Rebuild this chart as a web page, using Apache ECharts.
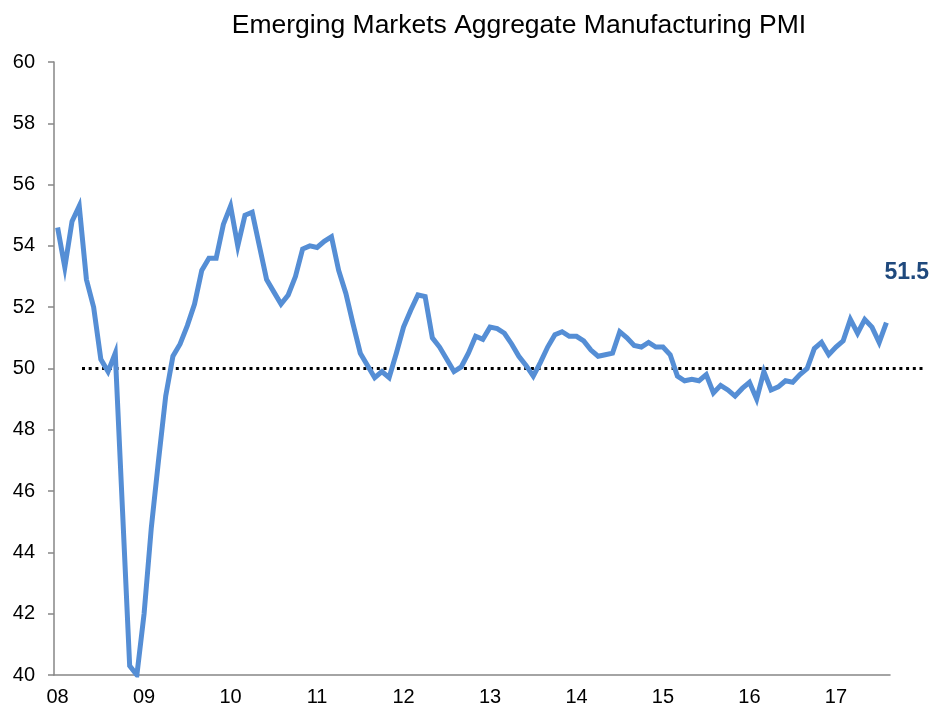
<!DOCTYPE html>
<html>
<head>
<meta charset="utf-8">
<script src="https://cdn.jsdelivr.net/npm/echarts@6/dist/echarts.min.js"></script>
<style>
  html, body { margin: 0; padding: 0; background: #fff; }
  #chart { width: 934px; height: 711px; }
</style>
</head>
<body>
<div id="chart"></div>
<script>
// year labels shown on the x axis (one per January)
const yearLabels = ['08', '09', '10', '11', '12', '13', '14', '15', '16', '17']

// monthly PMI readings, Jan 2008 .. Aug 2017
const pmi2008 = [54.6, 53.3, 54.8, 55.3, 52.9, 52.0, 50.3, 49.9, 50.5, 45.4, 40.3, 40.0]
const pmi2009 = [42.0, 44.8, 47.0, 49.1, 50.4, 50.8, 51.4, 52.1, 53.2, 53.6, 53.6, 54.7]
const pmi2010 = [55.3, 54.0, 55.0, 55.1, 54.0, 52.9, 52.5, 52.1, 52.4, 53.0, 53.9, 54.0]
const pmi2011 = [53.95, 54.15, 54.3, 53.2, 52.45, 51.45, 50.5, 50.1, 49.7, 49.9, 49.7, 50.5]
const pmi2012 = [51.35, 51.9, 52.4, 52.35, 51.0, 50.7, 50.3, 49.9, 50.05, 50.5, 51.05, 50.95]
const pmi2013 = [51.35, 51.3, 51.15, 50.8, 50.4, 50.1, 49.75, 50.2, 50.7, 51.1, 51.2, 51.05]
const pmi2014 = [51.05, 50.9, 50.6, 50.4, 50.45, 50.5, 51.2, 51.0, 50.75, 50.7, 50.85, 50.7]
const pmi2015 = [50.7, 50.45, 49.75, 49.6, 49.65, 49.6, 49.8, 49.2, 49.45, 49.3, 49.1, 49.35]
const pmi2016 = [49.55, 49.0, 49.9, 49.3, 49.4, 49.6, 49.55, 49.8, 50.0, 50.65, 50.85, 50.45]
const pmi2017 = [50.7, 50.9, 51.6, 51.15, 51.6, 51.35, 50.85, 51.5]

// the 50 no-change line
const thresholdLine = [[0, 50], [1, 50]]

const pmiValues = [].concat(pmi2008, pmi2009, pmi2010, pmi2011, pmi2012,
  pmi2013, pmi2014, pmi2015, pmi2016, pmi2017)

const months = pmiValues.map((v, i) => yearLabels[Math.floor(i / 12)] + '-' + (i % 12 + 1))

const chart = echarts.init(document.getElementById('chart'))
const axisGray = '#868686'

chart.setOption({
  animation: false,
  textStyle: { fontFamily: 'Liberation Sans' },
  title: {
    text: 'Emerging Markets Aggregate Manufacturing PMI',
    left: 514,
    top: 7,
    textAlign: 'center',
    textStyle: {
      fontFamily: 'Liberation Sans',
      fontSize: 26.5,
      fontWeight: 'normal',
      color: '#000'
    }
  },
  grid: [
    { left: 54, right: 44, top: 62, bottom: 36 },
    { left: 82, right: 8, top: 62, bottom: 36 }
  ],
  xAxis: [{
    type: 'category',
    gridIndex: 0,
    data: months,
    boundaryGap: true,
    axisLine: { lineStyle: { color: axisGray, width: 1.5 } },
    axisTick: {
      interval: 11,
      length: 6,
      lineStyle: { color: axisGray, width: 1.5 }
    },
    axisLabel: {
      interval: 11,
      margin: 12,
      fontSize: 20,
      color: '#000',
      formatter: (val) => val.split('-')[0]
    },
    splitLine: { show: false }
  }, {
    type: 'value',
    gridIndex: 1,
    min: 0,
    max: 1,
    show: false
  }],
  yAxis: [{
    type: 'value',
    gridIndex: 0,
    min: 40,
    max: 60,
    interval: 2,
    axisLine: { show: true, lineStyle: { color: axisGray, width: 1.5 } },
    axisTick: { show: true, length: 6, lineStyle: { color: axisGray, width: 1.5 } },
    axisLabel: { margin: 19, fontSize: 20, color: '#000' },
    splitLine: { show: false }
  }, {
    type: 'value',
    gridIndex: 1,
    min: 40,
    max: 60,
    show: false
  }],
  series: [{
    name: 'Threshold',
    type: 'line',
    xAxisIndex: 1,
    yAxisIndex: 1,
    data: thresholdLine,
    showSymbol: false,
    silent: true,
    z: 1,
    lineStyle: { color: '#000', width: 3, type: [3, 3.7], cap: 'butt' }
  }, {
    name: 'EM PMI',
    type: 'line',
    xAxisIndex: 0,
    yAxisIndex: 0,
    data: pmiValues,
    showSymbol: false,
    z: 3,
    lineStyle: { color: '#558ED5', width: 5, join: 'miter' },
    endLabel: {
      show: true,
      offset: [-10, -50],
      formatter: (p) => p.value.toFixed(1),
      fontFamily: 'Liberation Sans',
      fontSize: 23,
      fontWeight: 'bold',
      color: '#1F497D'
    }
  }]
})
</script>
</body>
</html>
